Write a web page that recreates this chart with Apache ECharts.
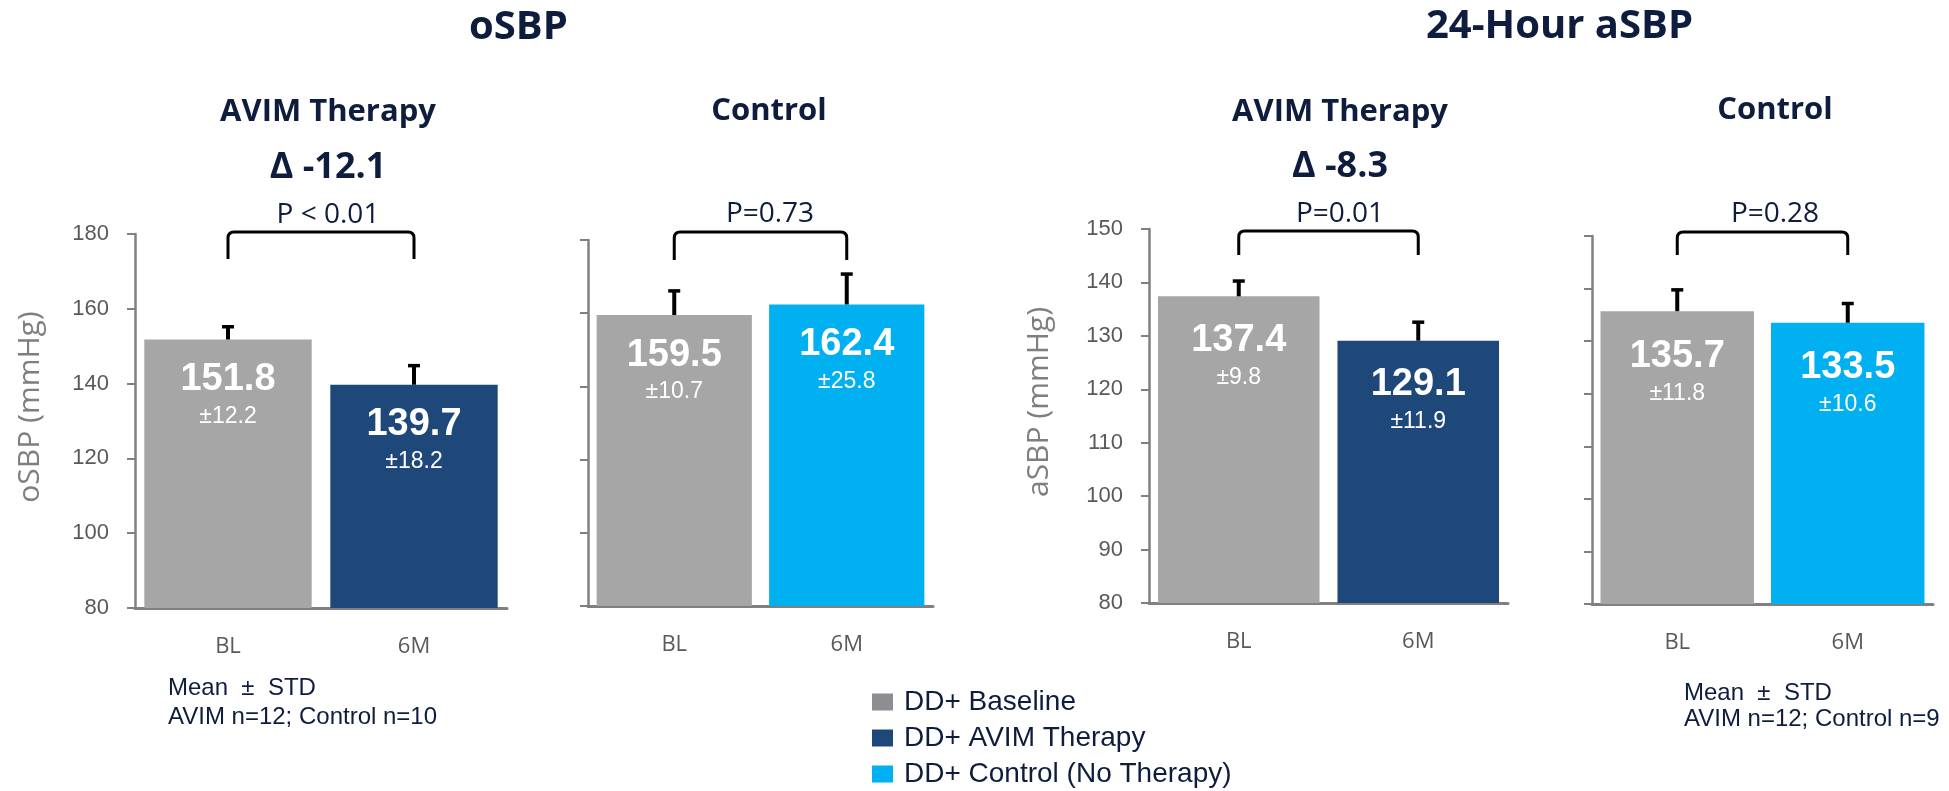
<!DOCTYPE html>
<html>
<head>
<meta charset="utf-8">
<script src="https://cdn.jsdelivr.net/npm/echarts@6/dist/echarts.min.js"></script>
<style>
  html, body { margin: 0; padding: 0; background: #ffffff; }
  #chart { width: 1949px; height: 791px; }
</style>
</head>
<body>
<div id="chart"></div>
<script>
// ---- data ----
const categories = ['BL', '6M'];

// office systolic blood pressure (mmHg)
const osbpAvimMean = [151.8, 139.7];
const osbpAvimStd = [12.2, 18.2];
const osbpAvimErr = [3.6, 5.3];
const osbpControlMean = [159.5, 162.4];
const osbpControlStd = [10.7, 25.8];
const osbpControlErr = [6.8, 8.5];

// 24-hour ambulatory systolic blood pressure (mmHg)
const asbpAvimMean = [137.4, 129.1];
const asbpAvimStd = [9.8, 11.9];
const asbpAvimErr = [3.0, 3.6];
const asbpControlMean = [135.7, 133.5];
const asbpControlStd = [11.8, 10.6];
const asbpControlErr = [4.2, 3.8];

const pValues = ['P < 0.01', 'P=0.73', 'P=0.01', 'P=0.28'];
const osbpTicks = [80, 100, 120, 140, 160, 180];
const asbpTicks = [80, 90, 100, 110, 120, 130, 140, 150];

const seriesNames = ['DD+ Baseline', 'DD+ AVIM Therapy', 'DD+ Control (No Therapy)'];

// ---- styling ----
const NAVY_TEXT = '#0E1D3D';
const GRAY_BAR = '#A6A6A6';
const NAVY_BAR = '#1F487A';
const CYAN_BAR = '#00B0F0';
const AXIS_GRAY = '#808080';
const TICK_TEXT = '#595959';

const panels = [
  { grid: { left: 135, top: 234, width: 372, height: 374 }, ticks: osbpTicks, showLabels: true,
    mean: osbpAvimMean, std: osbpAvimStd, err: osbpAvimErr,
    second: seriesNames[1], secondColor: NAVY_BAR, labelDist: 17, bracketTop: 232, bracketBottom: 259 },
  { grid: { left: 588, top: 240, width: 345, height: 366 }, ticks: osbpTicks, showLabels: false,
    mean: osbpControlMean, std: osbpControlStd, err: osbpControlErr,
    second: seriesNames[2], secondColor: CYAN_BAR, labelDist: 17, bracketTop: 232, bracketBottom: 260 },
  { grid: { left: 1149, top: 229, width: 359, height: 374 }, ticks: asbpTicks, showLabels: true,
    mean: asbpAvimMean, std: asbpAvimStd, err: asbpAvimErr,
    second: seriesNames[1], secondColor: NAVY_BAR, labelDist: 21, bracketTop: 231, bracketBottom: 255 },
  { grid: { left: 1592, top: 236, width: 341, height: 368 }, ticks: asbpTicks, showLabels: false,
    mean: asbpControlMean, std: asbpControlStd, err: asbpControlErr,
    second: seriesNames[2], secondColor: CYAN_BAR, labelDist: 22, bracketTop: 232, bracketBottom: 255 }
];

const grids = [], xAxes = [], yAxes = [], series = [];

panels.forEach((p, i) => {
  grids.push(Object.assign({ containLabel: false }, p.grid));
  xAxes.push({
    type: 'category', gridIndex: i, data: categories,
    axisTick: { show: false },
    axisLine: { lineStyle: { color: AXIS_GRAY, width: 3 } },
    axisLabel: { fontFamily: 'Open Sans', fontSize: 22, color: TICK_TEXT, margin: 28 }
  });
  const t = p.ticks;
  yAxes.push({
    type: 'value', gridIndex: i,
    min: t[0], max: t[t.length - 1], interval: t[1] - t[0],
    splitLine: { show: false },
    axisLine: { show: true, lineStyle: { color: AXIS_GRAY, width: 2.5 } },
    axisTick: { show: true, length: 8, lineStyle: { color: AXIS_GRAY, width: 2 } },
    axisLabel: { show: p.showLabels, fontFamily: 'Liberation Sans', fontSize: 22, color: TICK_TEXT, margin: 26 }
  });

  const label = {
    show: true, position: 'insideTop', distance: p.labelDist,
    formatter: (prm) => '{v|' + prm.value.toFixed(1) + '}\n{s|±' + p.std[prm.dataIndex].toFixed(1) + '}',
    rich: {
      v: { fontFamily: 'Liberation Sans', fontWeight: 'bold', fontSize: 38, color: '#ffffff', lineHeight: 46 },
      s: { fontFamily: 'Liberation Sans', fontSize: 23, color: '#ffffff', lineHeight: 28 }
    }
  };

  series.push({
    type: 'bar', name: seriesNames[0], xAxisIndex: i, yAxisIndex: i, stack: 'panel' + i,
    barCategoryGap: '10%', itemStyle: { color: GRAY_BAR }, label,
    data: [p.mean[0], '-']
  });
  series.push({
    type: 'bar', name: p.second, xAxisIndex: i, yAxisIndex: i, stack: 'panel' + i,
    barCategoryGap: '10%', itemStyle: { color: p.secondColor }, label,
    data: ['-', p.mean[1]]
  });

  // upper error whiskers
  series.push({
    type: 'custom', xAxisIndex: i, yAxisIndex: i, z: 5, clip: false, silent: true,
    data: p.mean.map((m, k) => [k, m, p.err[k]]),
    encode: { x: 0, y: 1 },
    renderItem: (params, api) => {
      const base = api.coord([api.value(0), api.value(1)]);
      const top = api.coord([api.value(0), api.value(1) + api.value(2)]);
      return {
        type: 'group', children: [
          { type: 'rect', shape: { x: base[0] - 2, y: top[1], width: 4, height: base[1] - top[1] }, style: { fill: '#000' } },
          { type: 'rect', shape: { x: base[0] - 6, y: top[1] - 1, width: 12, height: 3.5 }, style: { fill: '#000' } }
        ]
      };
    }
  });

  // significance bracket spanning both bars
  series.push({
    type: 'custom', xAxisIndex: i, yAxisIndex: i, z: 5, clip: false, silent: true,
    data: [[0, p.ticks[0]]],
    encode: { x: 0, y: 1 },
    renderItem: (params, api) => {
      const x0 = api.coord([0, p.ticks[0]])[0];
      const x1 = api.coord([1, p.ticks[0]])[0];
      const yt = p.bracketTop, yb = p.bracketBottom, r = 6;
      const d = `M${x0} ${yb} L${x0} ${yt + r} Q${x0} ${yt} ${x0 + r} ${yt} L${x1 - r} ${yt} Q${x1} ${yt} ${x1} ${yt + r} L${x1} ${yb}`;
      return { type: 'path', shape: { pathData: d }, style: { stroke: '#000', lineWidth: 3, fill: null } };
    }
  });
});

function txt(text, x, y, font, align, color, rotation) {
  return {
    type: 'text', x, y, rotation: rotation || 0,
    style: { text, font, fill: color || NAVY_TEXT, align: align || 'center', verticalAlign: 'middle' }
  };
}

const deltaAvimO = (osbpAvimMean[1] - osbpAvimMean[0]).toFixed(1);
const deltaAvimA = (asbpAvimMean[1] - asbpAvimMean[0]).toFixed(1);

const TITLE = 'bold 40px "Open Sans"';
const SUB = 'bold 31px "Open Sans"';
const DELTA = 'bold 36px "Open Sans"';
const PFONT = '28px "Open Sans"';
const NOTE = '24px "Liberation Sans"';
const AXIS_NAME = '30px "Open Sans"';

const graphics = [
  txt('oSBP', 469, 28, TITLE, 'left'),
  txt('24-Hour aSBP', 1426, 27, TITLE, 'left'),
  txt('AVIM Therapy', 328, 112, SUB),
  txt('Control', 769, 111, SUB),
  txt('AVIM Therapy', 1340, 112, SUB),
  txt('Control', 1775, 110, SUB),
  txt('Δ ' + deltaAvimO, 328, 168, DELTA),
  txt('Δ ' + deltaAvimA, 1340, 167, DELTA),
  txt(pValues[0], 328, 215, PFONT),
  txt(pValues[1], 770, 214, PFONT),
  txt(pValues[2], 1340, 214, PFONT),
  txt(pValues[3], 1775, 214, PFONT),
  txt('oSBP (mmHg)', 30, 407, AXIS_NAME, 'center', '#7F7F7F', Math.PI / 2),
  txt('aSBP (mmHg)', 1039, 402, AXIS_NAME, 'center', '#7F7F7F', Math.PI / 2),
  txt('Mean  ±  STD', 168, 688, NOTE, 'left'),
  txt('AVIM n=12; Control n=10', 168, 717, NOTE, 'left'),
  txt('Mean  ±  STD', 1684, 693, NOTE, 'left'),
  txt('AVIM n=12; Control n=9', 1684, 719, NOTE, 'left')
];

const chart = echarts.init(document.getElementById('chart'), null, { renderer: 'canvas' });
chart.setOption({
  animation: false,
  backgroundColor: '#ffffff',
  grid: grids,
  xAxis: xAxes,
  yAxis: yAxes,
  series,
  legend: {
    orient: 'vertical', left: 872, top: 688, padding: 0,
    icon: 'rect', itemWidth: 21, itemHeight: 17, itemGap: 8,
    selectedMode: false,
    textStyle: { fontFamily: 'Liberation Sans', fontSize: 28, color: NAVY_TEXT, lineHeight: 28, padding: [0, 0, 0, 6] },
    data: [
      { name: seriesNames[0], itemStyle: { color: '#8E8E92' } },
      { name: seriesNames[1], itemStyle: { color: NAVY_BAR } },
      { name: seriesNames[2], itemStyle: { color: CYAN_BAR } }
    ]
  },
  graphic: graphics
});
</script>
</body>
</html>
